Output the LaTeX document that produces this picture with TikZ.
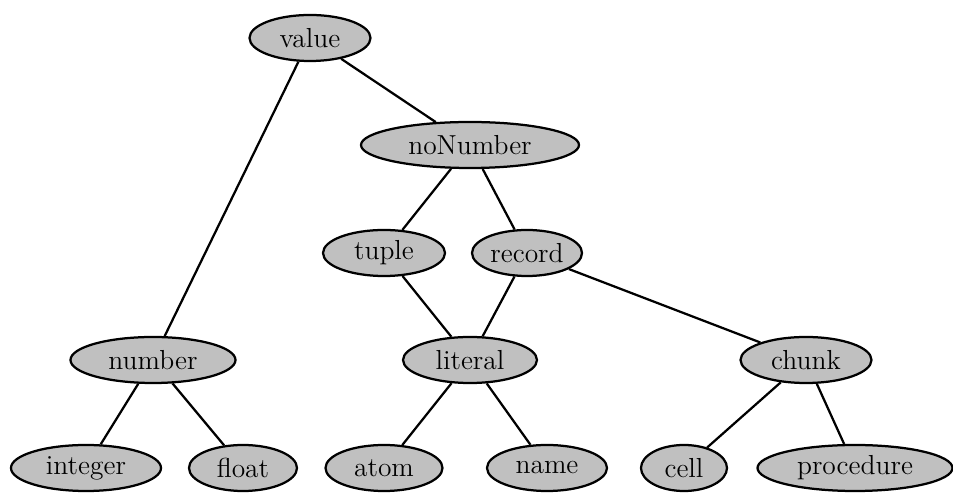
\documentclass[tikz,border=0pt]{standalone}
\usetikzlibrary{shapes.geometric, positioning}
\definecolor{typegray}{RGB}{192,192,192}
\tikzset{
    typenode/.style={
        ellipse, draw=black, line width=0.9pt,
        minimum height=18.4pt, inner sep=0pt,
        fill=typegray, font=\fontsize{11}{13}\selectfont
    },
    link/.style={draw=black, line width=0.9pt}
}
\begin{document}
\begin{tikzpicture}[x=0.4pt, y=-0.4pt]
\useasboundingbox (0,0) rectangle (953,504);

% top levels
\node[typenode, minimum width=48.4pt] (value) at (310,38) {value};
\node[typenode, minimum width=87.2pt] (nonum) at (470,145) {noNumber};
\node[typenode, minimum width=48.8pt] (tuple) at (384,253) {tuple};
\node[typenode, minimum width=44pt] (record) at (527,253) {record};

% middle row
\node[typenode, minimum width=66pt] (number) at (153,360) {number};
\node[typenode, minimum width=53.6pt] (literal) at (470,360) {literal};
\node[typenode, minimum width=52.4pt] (chunk) at (806,360) {chunk};

% leaves
\node[typenode, minimum width=60pt] (integer) at (86,468) {integer};
\node[typenode, minimum width=43.2pt] (float) at (243,468) {float};
\node[typenode, minimum width=46.8pt] (atom) at (384,468) {atom};
\node[typenode, minimum width=48pt] (name) at (547,468) {name};
\node[typenode, minimum width=34.4pt] (cell) at (684,468) {cell};
\node[typenode, minimum width=78pt] (proc) at (855,468) {procedure};

\draw[link] (value) -- (number);
\draw[link] (value) -- (nonum);
\draw[link] (nonum) -- (tuple);
\draw[link] (nonum) -- (record);
\draw[link] (tuple) -- (literal);
\draw[link] (record) -- (literal);
\draw[link] (record) -- (chunk);
\draw[link] (number) -- (integer);
\draw[link] (number) -- (float);
\draw[link] (literal) -- (atom);
\draw[link] (literal) -- (name);
\draw[link] (chunk) -- (cell);
\draw[link] (chunk) -- (proc);

\end{tikzpicture}
\end{document}
